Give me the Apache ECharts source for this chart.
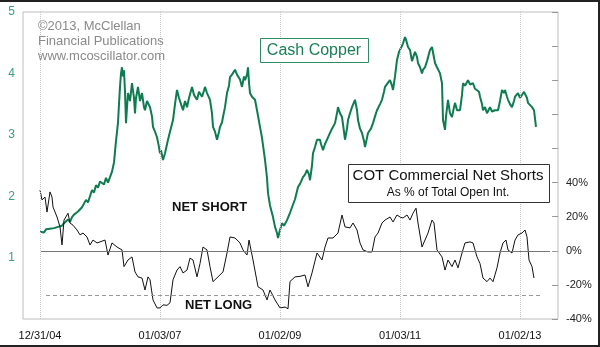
<!DOCTYPE html>
<html>
<head>
<meta charset="utf-8">
<script src="https://cdn.jsdelivr.net/npm/echarts@6/dist/echarts.min.js"></script>
<style>
html,body{margin:0;padding:0;background:#fff;}
#chart{width:600px;height:347px;}
</style>
</head>
<body>
<div id="chart"></div>
<script>
// Time is in months since 12/31/04
const dateTickMonths = [0, 24, 48, 72, 96];
const dateTickLabels = ['12/31/04', '01/03/07', '01/02/09', '01/03/11', '01/02/13'];

// Cash copper ($/lb)
const copperMonths = [0,0.4,0.8,1.2,1.6,2,2.4,2.8,3.2,3.6,4,4.4,4.8,5.2,5.6,6,6.4,6.8,7.2,7.6,8,8.4,8.8,9.2,9.6,10,10.4,10.8,11.2,11.6,12,12.4,12.8,13.2,13.6,14,14.4,14.8,15.2,15.6,15.8,16,16.2,16.4,16.6,16.8,17,17.2,17.4,17.6,18,18.4,18.8,19,19.2,19.6,20,20.4,20.8,21,21.4,22,22.4,22.6,23,23.4,23.8,24,24.2,24.6,25,25.6,26,26.6,27,27.4,27.8,28,28.4,28.6,29,29.4,29.8,30.4,30.8,31.4,31.8,32.4,32.8,33,33.4,34,34.4,34.6,35,35.4,35.8,36,36.4,36.6,37,37.4,37.8,38,38.4,39,39.4,39.6,40,40.4,40.8,41,41.4,41.6,41.8,42,42.4,43,43.4,44,44.4,45,45.4,45.6,46,46.6,47,47.4,47.6,48,48.4,48.8,49.4,49.8,50,50.4,51,51.6,52,52.6,53,53.4,53.8,54,54.4,54.6,55,55.4,56,56.2,56.6,57,57.4,58,58.4,59,59.4,59.6,60,60.4,60.8,61,61.4,61.6,62,62.4,63,63.4,63.6,64,64.4,64.8,65,65.4,65.6,66.2,66.6,67,67.4,68,68.4,68.8,69,69.6,70,70.4,70.6,71,71.4,71.8,72,72.4,72.6,73,73.2,73.6,74,74.4,75,75.4,75.6,76,76.4,76.6,77,77.4,77.6,78,78.4,78.6,79,79.4,80,80.4,80.6,81,81.2,81.6,82,82.4,82.8,83,83.4,84,84.4,84.6,85,85.6,86,86.6,87,87.4,87.8,88,88.4,88.6,89,89.4,90,90.4,91,91.6,92,92.4,92.8,93,93.4,93.6,94,94.4,94.8,95,95.6,96,96.4,96.8,97,97.4,97.6,98,98.4,98.8,99,99.2];
const copperValues = [1.42,1.45,1.41,1.46,1.43,1.47,1.44,1.48,1.45,1.50,1.47,1.52,1.56,1.53,1.62,1.58,1.66,1.70,1.67,1.75,1.72,1.82,1.85,1.94,1.90,2.00,2.10,2.06,2.18,2.14,2.24,2.26,2.19,2.30,2.22,2.21,2.40,2.55,2.90,3.20,3.50,3.78,4.00,4.10,3.95,4.05,3.70,3.19,3.45,3.68,3.55,3.84,3.60,3.35,3.60,3.78,3.55,3.68,3.45,3.40,3.55,3.45,3.30,3.13,3.05,2.96,2.80,2.70,2.75,2.59,2.70,2.92,3.05,3.24,3.50,3.73,3.60,3.62,3.45,3.40,3.55,3.45,3.60,3.78,3.65,3.57,3.70,3.62,3.72,3.78,3.68,3.57,3.35,3.13,3.05,2.92,3.05,3.13,3.20,3.29,3.45,3.68,3.80,3.94,3.98,4.06,3.98,4.00,3.90,3.78,3.95,3.89,3.98,4.10,3.85,3.68,3.62,3.57,3.40,3.13,2.95,2.59,2.30,2.05,1.85,1.66,1.50,1.40,1.32,1.45,1.56,1.52,1.61,1.58,1.73,1.82,1.95,2.15,2.20,2.31,2.35,2.43,2.35,2.26,2.50,2.70,2.80,2.92,2.92,2.85,2.75,2.85,2.92,3.03,3.10,3.19,3.35,3.45,3.35,3.29,3.05,2.92,3.10,3.24,3.35,3.45,3.57,3.40,3.24,3.10,3.03,2.90,2.80,2.95,3.03,3.10,3.19,3.30,3.40,3.50,3.57,3.70,3.78,3.85,3.89,3.80,3.73,3.95,4.22,4.35,4.38,4.45,4.49,4.59,4.55,4.43,4.38,4.20,4.35,4.27,4.17,4.10,4.00,4.06,4.10,4.20,4.22,4.38,4.43,4.40,4.17,4.10,4.00,3.84,3.24,3.08,3.30,3.57,3.35,3.29,3.45,3.52,3.40,3.40,3.65,3.84,3.80,3.89,3.82,3.84,3.75,3.78,3.70,3.62,3.50,3.40,3.45,3.35,3.45,3.38,3.40,3.40,3.55,3.73,3.68,3.73,3.62,3.57,3.50,3.45,3.55,3.62,3.68,3.60,3.62,3.70,3.73,3.60,3.52,3.50,3.45,3.40,3.38,3.13];

// COT commercial net shorts, % of total open interest
const cotMonths = [0,0.4,1,1.4,2,2.4,2.6,3.4,4,4.4,4.8,5.6,6,6.6,7.4,8,8.6,9.4,10,10.6,11.4,12,13,13.6,14.4,15.4,16.4,16.8,17.6,18.4,19,19.6,20.4,21,21.6,22,22.6,23.4,24,24.6,25.4,26,26.6,27.4,28,28.6,29.4,30,30.6,31.4,32,32.6,33.4,34,34.6,35.6,36.6,37.4,38,39,40,40.6,41.4,41.8,42.6,43.6,44.6,45.4,46,47,48,49,49.6,50,51,52,53,53.6,54.4,55.4,56.4,57,57.6,58.6,59.6,60.4,61,62,62.6,63.4,64,64.6,65.6,66.4,67,67.6,68.4,69,70,70.6,71.4,72,72.6,73.4,74,74.6,75.2,75.6,76.4,77,77.6,78.4,78.8,79.4,80.4,81,81.6,82.4,83,83.6,84.4,85,86,86.6,87.4,88,88.6,89.4,90,90.6,91.4,92,92.6,93.2,93.6,94.4,95,95.6,96.4,97,97.4,97.8,98.4,98.8];
const cotValues = [35.6,29.8,31.5,22.7,34.5,31.5,25.7,19.8,14,3.4,18,22,16.3,15,12.2,9.3,10.4,8.1,3.4,6.3,4.6,5.2,6.3,-2.5,4.6,2.2,0.5,-9.3,-5.4,-3.6,-12.4,-15.3,-16,-23,-15.3,-17,-28.8,-33.5,-33.5,-31.7,-32,-30.5,-17,-11.3,-9.3,-13,-11.3,-4.3,-5.4,-15.3,-7.5,2.2,0.5,-9.3,-18.1,-15.3,-12.4,-1.3,8.1,7.5,4.6,0.5,-2.5,6.3,-5.4,-21.1,-23,-28.8,-23,-28.8,-33.5,-33,-34,-18,-15.3,-15,-14.2,-21.1,-13,-1.3,-5.4,2.2,7.5,7.5,10.4,21,14,13.4,16.3,12.2,4.6,0.5,-0.7,-0.7,8.1,10.4,16.3,18,19.8,16.9,21,19.8,19.2,21,18,22,25,16.3,2.2,6.3,10.4,18,16.3,0.5,-3.6,-11.3,-5.4,-9.3,-5.4,-10,-1.3,4.6,5.2,4.6,-3.6,-7.5,-16,-18.1,-16,-18.1,-10,-1.3,4.6,6.3,0.5,-1.3,6.3,9.3,10.4,12.2,8.1,-5.4,-9.3,-16];

// Reference levels (% of open interest)
const zeroLevel = 0;
const netLongLevel = -26;

const leftTicks = [0, 1, 2, 3, 4, 5];
const rightLabelled = [-40, -20, 0, 20, 40];

const zip = (a, b) => a.map((v, i) => [v, b[i]]);

const chart = echarts.init(document.getElementById('chart'), null, {renderer: 'canvas'});
const FONT = 'Arial, "Liberation Sans", sans-serif';

chart.setOption({
  animation: false,
  backgroundColor: '#fff',
  grid: {left: 23, top: 12, right: 42, bottom: 28, show: true, borderColor: '#bdbdbd', borderWidth: 1, backgroundColor: '#fff'},
  xAxis: {
    type: 'value', min: -3.4, max: 103.6,
    axisLine: {show: false}, axisTick: {show: false}, splitLine: {show: false},
    axisLabel: {
      customValues: dateTickMonths, margin: 11, color: '#111', fontSize: 11, fontFamily: FONT,
      formatter: v => { const i = dateTickMonths.indexOf(v); return i >= 0 ? dateTickLabels[i] : ''; }
    }
  },
  yAxis: [
    {
      type: 'value', min: 0, max: 5, interval: 1, position: 'left',
      axisLine: {show: false}, axisTick: {show: false}, splitLine: {show: false},
      axisLabel: {color: '#3a9c80', fontSize: 12, fontFamily: FONT, margin: 8,
        formatter: v => v === 0 ? '' : String(v)}
    },
    {
      type: 'value', min: -40, max: 140, interval: 20, position: 'right',
      axisLine: {show: false}, splitLine: {show: false},
      axisTick: {show: true, inside: true, length: 6, lineStyle: {color: '#999'}},
      axisLabel: {color: '#222', fontSize: 11, fontFamily: FONT, margin: 8,
        formatter: v => rightLabelled.indexOf(v) >= 0 ? v + '%' : ''}
    }
  ],
  series: [
    {
      type: 'line', yAxisIndex: 1, data: [], silent: true, z: 1,
      markLine: {
        silent: true, symbol: ['none', 'none'], label: {show: false},
        lineStyle: {color: '#c4c4c4', type: 'dotted', width: 1},
        data: dateTickMonths.map(m => ({xAxis: m}))
      }
    },
    {
      name: 'Cash Copper', type: 'line', yAxisIndex: 0, z: 3,
      data: zip(copperMonths, copperValues), showSymbol: false,
      lineStyle: {color: '#0e7c50', width: 2}, itemStyle: {color: '#0e7c50'}
    },
    {
      name: 'COT', type: 'line', yAxisIndex: 1, z: 4,
      data: zip(cotMonths, cotValues), showSymbol: false,
      lineStyle: {color: '#111', width: 1}, itemStyle: {color: '#111'},
      markLine: {
        silent: true, symbol: ['none', 'none'], label: {show: false},
        data: [
          [{coord: [0.2, zeroLevel], lineStyle: {color: '#777', type: 'solid', width: 1}}, {coord: [102, zeroLevel]}],
          [{coord: [1.2, netLongLevel], lineStyle: {color: '#999', type: [4, 3], width: 1}}, {coord: [100.4, netLongLevel]}]
        ]
      }
    }
  ],
  graphic: [
    {type: 'rect', shape: {x: 0, y: 0, width: 600, height: 2}, style: {fill: '#222'}, z: 100},
    {type: 'rect', shape: {x: 598, y: 0, width: 2, height: 347}, style: {fill: '#222'}, z: 100},
    {type: 'rect', shape: {x: 0, y: 345, width: 600, height: 2}, style: {fill: '#222'}, z: 100},
    {type: 'text', left: 38, top: 19, z: 50, style: {text: '©2013, McClellan\nFinancial Publications\nwww.mcoscillator.com', fill: '#8a8a8a', font: '13px ' + FONT, lineHeight: 15}},
    {type: 'rect', shape: {x: 260.5, y: 38.5, width: 108, height: 24}, style: {fill: '#fff', stroke: '#2e8c62', lineWidth: 1}, z: 50},
    {type: 'text', x: 314, y: 51, z: 51, style: {text: 'Cash Copper', fill: '#1a7f55', font: '16px ' + FONT, textAlign: 'center', textVerticalAlign: 'middle'}},
    {type: 'rect', shape: {x: 348.5, y: 164.5, width: 201, height: 38}, style: {fill: '#fff', stroke: '#333', lineWidth: 1}, z: 50},
    {type: 'text', x: 448, y: 176, z: 51, style: {text: 'COT Commercial Net Shorts', fill: '#111', font: '15px ' + FONT, textAlign: 'center', textVerticalAlign: 'middle'}},
    {type: 'text', x: 448, y: 193, z: 51, style: {text: 'As % of Total Open Int.', fill: '#111', font: '12px ' + FONT, textAlign: 'center', textVerticalAlign: 'middle'}},
    {type: 'text', x: 172, y: 207, z: 51, style: {text: 'NET SHORT', fill: '#111', font: 'bold 13px ' + FONT, textVerticalAlign: 'middle'}},
    {type: 'text', x: 185, y: 305, z: 51, style: {text: 'NET LONG', fill: '#111', font: 'bold 13px ' + FONT, textVerticalAlign: 'middle'}}
  ]
});
</script>
</body>
</html>
